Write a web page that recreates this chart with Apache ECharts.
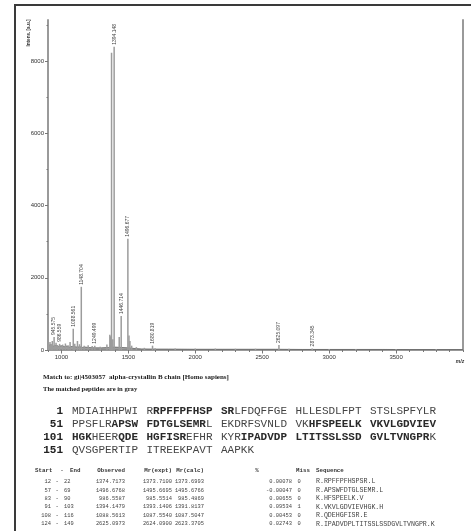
<!DOCTYPE html>
<html><head><meta charset="utf-8">
<script src="https://cdn.jsdelivr.net/npm/echarts@6/dist/echarts.min.js"></script>
<style>html,body{margin:0;padding:0;background:#fff}#c{width:471px;height:531px}</style>
</head><body><div id="c"></div>
<script>
// ---- spectrum data ----
const peakMz = [945.575, 986.559, 1088.561, 1148.704, 1249.499, 1374.717, 1394.148, 1446.714, 1496.677, 1680.819, 2625.097, 2873.345];
const peakInt = [360, 170, 590, 1750, 120, 8230, 8400, 940, 3080, 120, 140, 45];
const peakLabel = ['945.575', '986.559', '1088.561', '1148.704', '1249.499', '', '1394.148', '1446.714', '1496.677', '1680.819', '2625.097', '2873.345'];
const noiseMz = [905, 915, 925, 932, 960, 970, 1010, 1030, 1050, 1065, 1100, 1120, 1135, 1170, 1200, 1230, 1290, 1340, 1362, 1368, 1384, 1432, 1505, 1512, 1525, 1560, 1620, 1700, 1850, 2000, 2150, 2300, 2450, 2700, 3000, 3200, 3500, 3800];
const noiseInt = [180, 220, 160, 250, 200, 140, 150, 180, 130, 220, 170, 250, 160, 120, 130, 110, 90, 150, 420, 380, 300, 360, 400, 250, 120, 80, 60, 50, 45, 40, 40, 35, 35, 35, 30, 30, 30, 25];
const baseMz = [900, 920, 940, 960, 980, 1000, 1020, 1040, 1060, 1080, 1100, 1120, 1140, 1160, 1180, 1200, 1250, 1300, 1350, 1400, 1450, 1500, 1550, 1600, 1700, 1800, 2000, 2200, 2400, 2600, 2800, 3000, 3200, 3400, 3600, 3800, 4000];
const baseInt = [120, 150, 110, 130, 100, 120, 90, 110, 80, 100, 90, 80, 90, 70, 80, 70, 60, 60, 70, 80, 70, 60, 40, 30, 25, 25, 20, 20, 20, 20, 15, 15, 15, 15, 12, 12, 12];
const xLabelValues = [1000, 1500, 2000, 2500, 3000, 3500];
const yLabelValues = [0, 2000, 4000, 6000, 8000];

// ---- protein / match data ----
const matchTitle = 'Match to: gi|4503057  alpha-crystallin B chain [Homo sapiens]';
const matchNote = 'The matched peptides are in gray';
const sequence = 'MDIAIHHPWIRRPFFPFHSPSRLFDQFFGEHLLESDLFPTSTSLSPFYLRPPSFLRAPSWFDTGLSEMRLEKDRFSVNLDVKHFSPEELKVKVLGDVIEVHGKHEERQDEHGFISREFHRKYRIPADVDPLTITSSLSSDGVLTVNGPRKQVSGPERTIPITREEKPAVTAAPKK';
const tableHeader = ['Start', '-', 'End', 'Observed', 'Mr(expt)', 'Mr(calc)', '%', 'Miss', 'Sequence'];
const startPos = [12, 57, 83, 91, 108, 124];
const endPos = [22, 69, 90, 103, 116, 149];
const observed = ['1374.7173', '1496.6768', '986.5587', '1394.1479', '1088.5613', '2625.0973'];
const mrExpt = ['1373.7100', '1495.6695', '985.5514', '1393.1406', '1087.5540', '2624.0900'];
const mrCalc = ['1373.6993', '1495.6766', '985.4869', '1391.8137', '1087.5047', '2623.3705'];
const deltaPct = ['0.00078', '-0.00047', '0.00655', '0.09534', '0.00453', '0.02743'];
const missed = [0, 0, 0, 1, 0, 0];
const peptides = ['R.RPFFPFHSPSR.L', 'R.APSWFDTGLSEMR.L', 'K.HFSPEELK.V', 'K.VKVLGDVIEVHGK.H', 'R.QDEHGFISR.E', 'R.IPADVDPLTITSSLSSDGVLTVNGPR.K'];

// ---- build ----
const xMinor = []; for (let v = 900; v <= 4000; v += 100) xMinor.push(v);
const yMinor = []; for (let v = 0; v <= 9000; v += 1000) yMinor.push(v);

const stickData = [];
noiseMz.forEach((m, i) => stickData.push({ value: [m, noiseInt[i]], label: { show: false } }));
peakMz.forEach((m, i) => stickData.push({
  value: [m, peakInt[i]],
  label: { show: !!peakLabel[i], formatter: peakLabel[i] }
}));

const MONO = '"Liberation Mono", "DejaVu Sans Mono", monospace';
const SERIF = '"Liberation Serif", "DejaVu Serif", serif';
const SANS = '"Liberation Sans", Arial, sans-serif';

const graphics = [];
graphics.push({ type: 'rect', shape: { x: 15, y: 5, width: 480, height: 560 }, style: { fill: 'none', stroke: '#3a3a3a', lineWidth: 2 }, silent: true });
graphics.push({ type: 'text', x: 29, y: 33, rotation: Math.PI / 2, style: { text: 'Intens. [a.u.]', font: 'bold 4.6px ' + SANS, fill: '#333', align: 'center', verticalAlign: 'middle' } });
graphics.push({ type: 'text', x: 460, y: 362, style: { text: 'm/z', font: 'bold italic 5px ' + SANS, fill: '#333', align: 'center', verticalAlign: 'middle' } });
graphics.push({ type: 'text', x: 43, y: 377, style: { text: matchTitle, font: 'bold 7px ' + SERIF, fill: '#222', align: 'left', verticalAlign: 'middle' } });
graphics.push({ type: 'text', x: 43, y: 389, style: { text: matchNote, font: 'bold 6.6px ' + SERIF, fill: '#222', align: 'left', verticalAlign: 'middle' } });

function isMatched(pos) {
  for (let k = 0; k < startPos.length; k++) if (pos >= startPos[k] && pos <= endPos[k]) return true;
  return false;
}
function blockRich(s, e) {
  let out = '', cur = null, buf = '';
  for (let i = s; i < e; i++) {
    const t = isMatched(i + 1) ? 'm' : 'u';
    if (t !== cur) { if (buf) out += '{' + cur + '|' + buf + '}'; cur = t; buf = ''; }
    buf += sequence[i];
  }
  if (buf) out += '{' + cur + '|' + buf + '}';
  return out;
}
const seqY = [411, 424, 437, 450];
for (let L = 0; L * 50 < sequence.length; L++) {
  graphics.push({ type: 'text', x: 63, y: seqY[L], style: { text: String(L * 50 + 1), font: 'bold 11px ' + MONO, fill: '#222', align: 'right', verticalAlign: 'middle' } });
  for (let b = 0; b < 5; b++) {
    const s = L * 50 + b * 10;
    if (s >= sequence.length) break;
    const e = Math.min(s + 10, sequence.length);
    graphics.push({ type: 'text', x: 72 + b * 74.5, y: seqY[L], style: {
      text: blockRich(s, e), align: 'left', verticalAlign: 'middle',
      rich: {
        m: { fontFamily: 'Liberation Mono', fontSize: 11, fontWeight: 'bold', fill: '#2a2a2a' },
        u: { fontFamily: 'Liberation Mono', fontSize: 11, fontWeight: 'normal', fill: '#444' }
      }
    } });
  }
}
// table header
const hy = 471;
const hdrFont = 'bold 5.8px ' + MONO;
const hdrPos = [[35, 'left'], [62, 'center'], [70, 'left'], [125, 'right'], [172, 'right'], [204, 'right'], [257, 'center'], [296, 'left'], [316, 'left']];
tableHeader.forEach((h, i) => graphics.push({ type: 'text', x: hdrPos[i][0], y: hy, style: { text: h, font: hdrFont, fill: '#333', align: hdrPos[i][1], verticalAlign: 'middle' } }));
const rowFont = '5.4px ' + MONO;
for (let r = 0; r < startPos.length; r++) {
  const y = 481.7 + r * 8.45;
  const cells = [
    [String(startPos[r]), 51, 'right', rowFont],
    ['-', 57, 'center', rowFont],
    [String(endPos[r]), 64, 'left', rowFont],
    [observed[r], 125, 'right', rowFont],
    [mrExpt[r], 172, 'right', rowFont],
    [mrCalc[r], 204, 'right', rowFont],
    [deltaPct[r], 292, 'right', rowFont],
    [String(missed[r]), 299, 'center', rowFont],
    [peptides[r], 316, 'left', '6.6px ' + MONO]
  ];
  cells.forEach(c => graphics.push({ type: 'text', x: c[1], y: y, style: { text: c[0], font: c[3], fill: '#444', align: c[2], verticalAlign: 'middle' } }));
}

const plain = v => String(v);
const chart = echarts.init(document.getElementById('c'));
chart.setOption({
  animation: false,
  backgroundColor: '#fff',
  grid: { left: 48, right: 8, top: 20, bottom: 181 },
  xAxis: [{
    type: 'value', min: 900, max: 4000,
    axisLine: { show: true, lineStyle: { color: '#9a9a9a', width: 2 } },
    axisTick: { show: true, customValues: xMinor, length: 2, lineStyle: { color: '#777', width: 1 } },
    axisLabel: { customValues: xLabelValues, formatter: plain, fontSize: 6, color: '#333', fontFamily: 'Liberation Sans', margin: 4 },
    splitLine: { show: false }
  }, {
    type: 'value', min: 900, max: 4000, position: 'bottom',
    axisLine: { show: false },
    axisTick: { show: true, customValues: xLabelValues, length: 3.5, lineStyle: { color: '#777', width: 1 } },
    axisLabel: { show: false }, splitLine: { show: false }
  }],
  yAxis: [{
    type: 'value', min: 0, max: 9140,
    axisLine: { show: true, lineStyle: { color: '#9a9a9a', width: 2 } },
    axisTick: { show: true, customValues: yMinor, length: 1.5, lineStyle: { color: '#777', width: 1 } },
    axisLabel: { customValues: yLabelValues, formatter: plain, fontSize: 6, color: '#333', fontFamily: 'Liberation Sans', margin: 4 },
    splitLine: { show: false }
  }, {
    type: 'value', min: 0, max: 9140, position: 'left',
    axisLine: { show: false },
    axisTick: { show: true, customValues: yLabelValues, length: 3, lineStyle: { color: '#777', width: 1 } },
    axisLabel: { show: false }, splitLine: { show: false }
  }, {
    type: 'value', min: 0, max: 9140, position: 'right',
    axisLine: { show: true, lineStyle: { color: '#9a9a9a', width: 2 } },
    axisTick: { show: false }, axisLabel: { show: false }, splitLine: { show: false }
  }],
  series: [{
    type: 'line', xAxisIndex: 0, yAxisIndex: 0,
    data: baseMz.map((m, i) => [m, baseInt[i]]),
    symbol: 'none', lineStyle: { color: '#666', width: 0.8 },
    areaStyle: { color: '#888', opacity: 0.8 }, z: 2
  }, {
    type: 'bar', xAxisIndex: 0, yAxisIndex: 0,
    data: stickData, barWidth: 1.5,
    itemStyle: { color: '#9c9c9c' },
    label: { position: 'top', rotate: 90, align: 'left', verticalAlign: 'middle', distance: 2, fontSize: 5, color: '#444', fontFamily: 'Liberation Sans' },
    z: 3
  }],
  graphic: graphics
});
</script>
</body></html>
